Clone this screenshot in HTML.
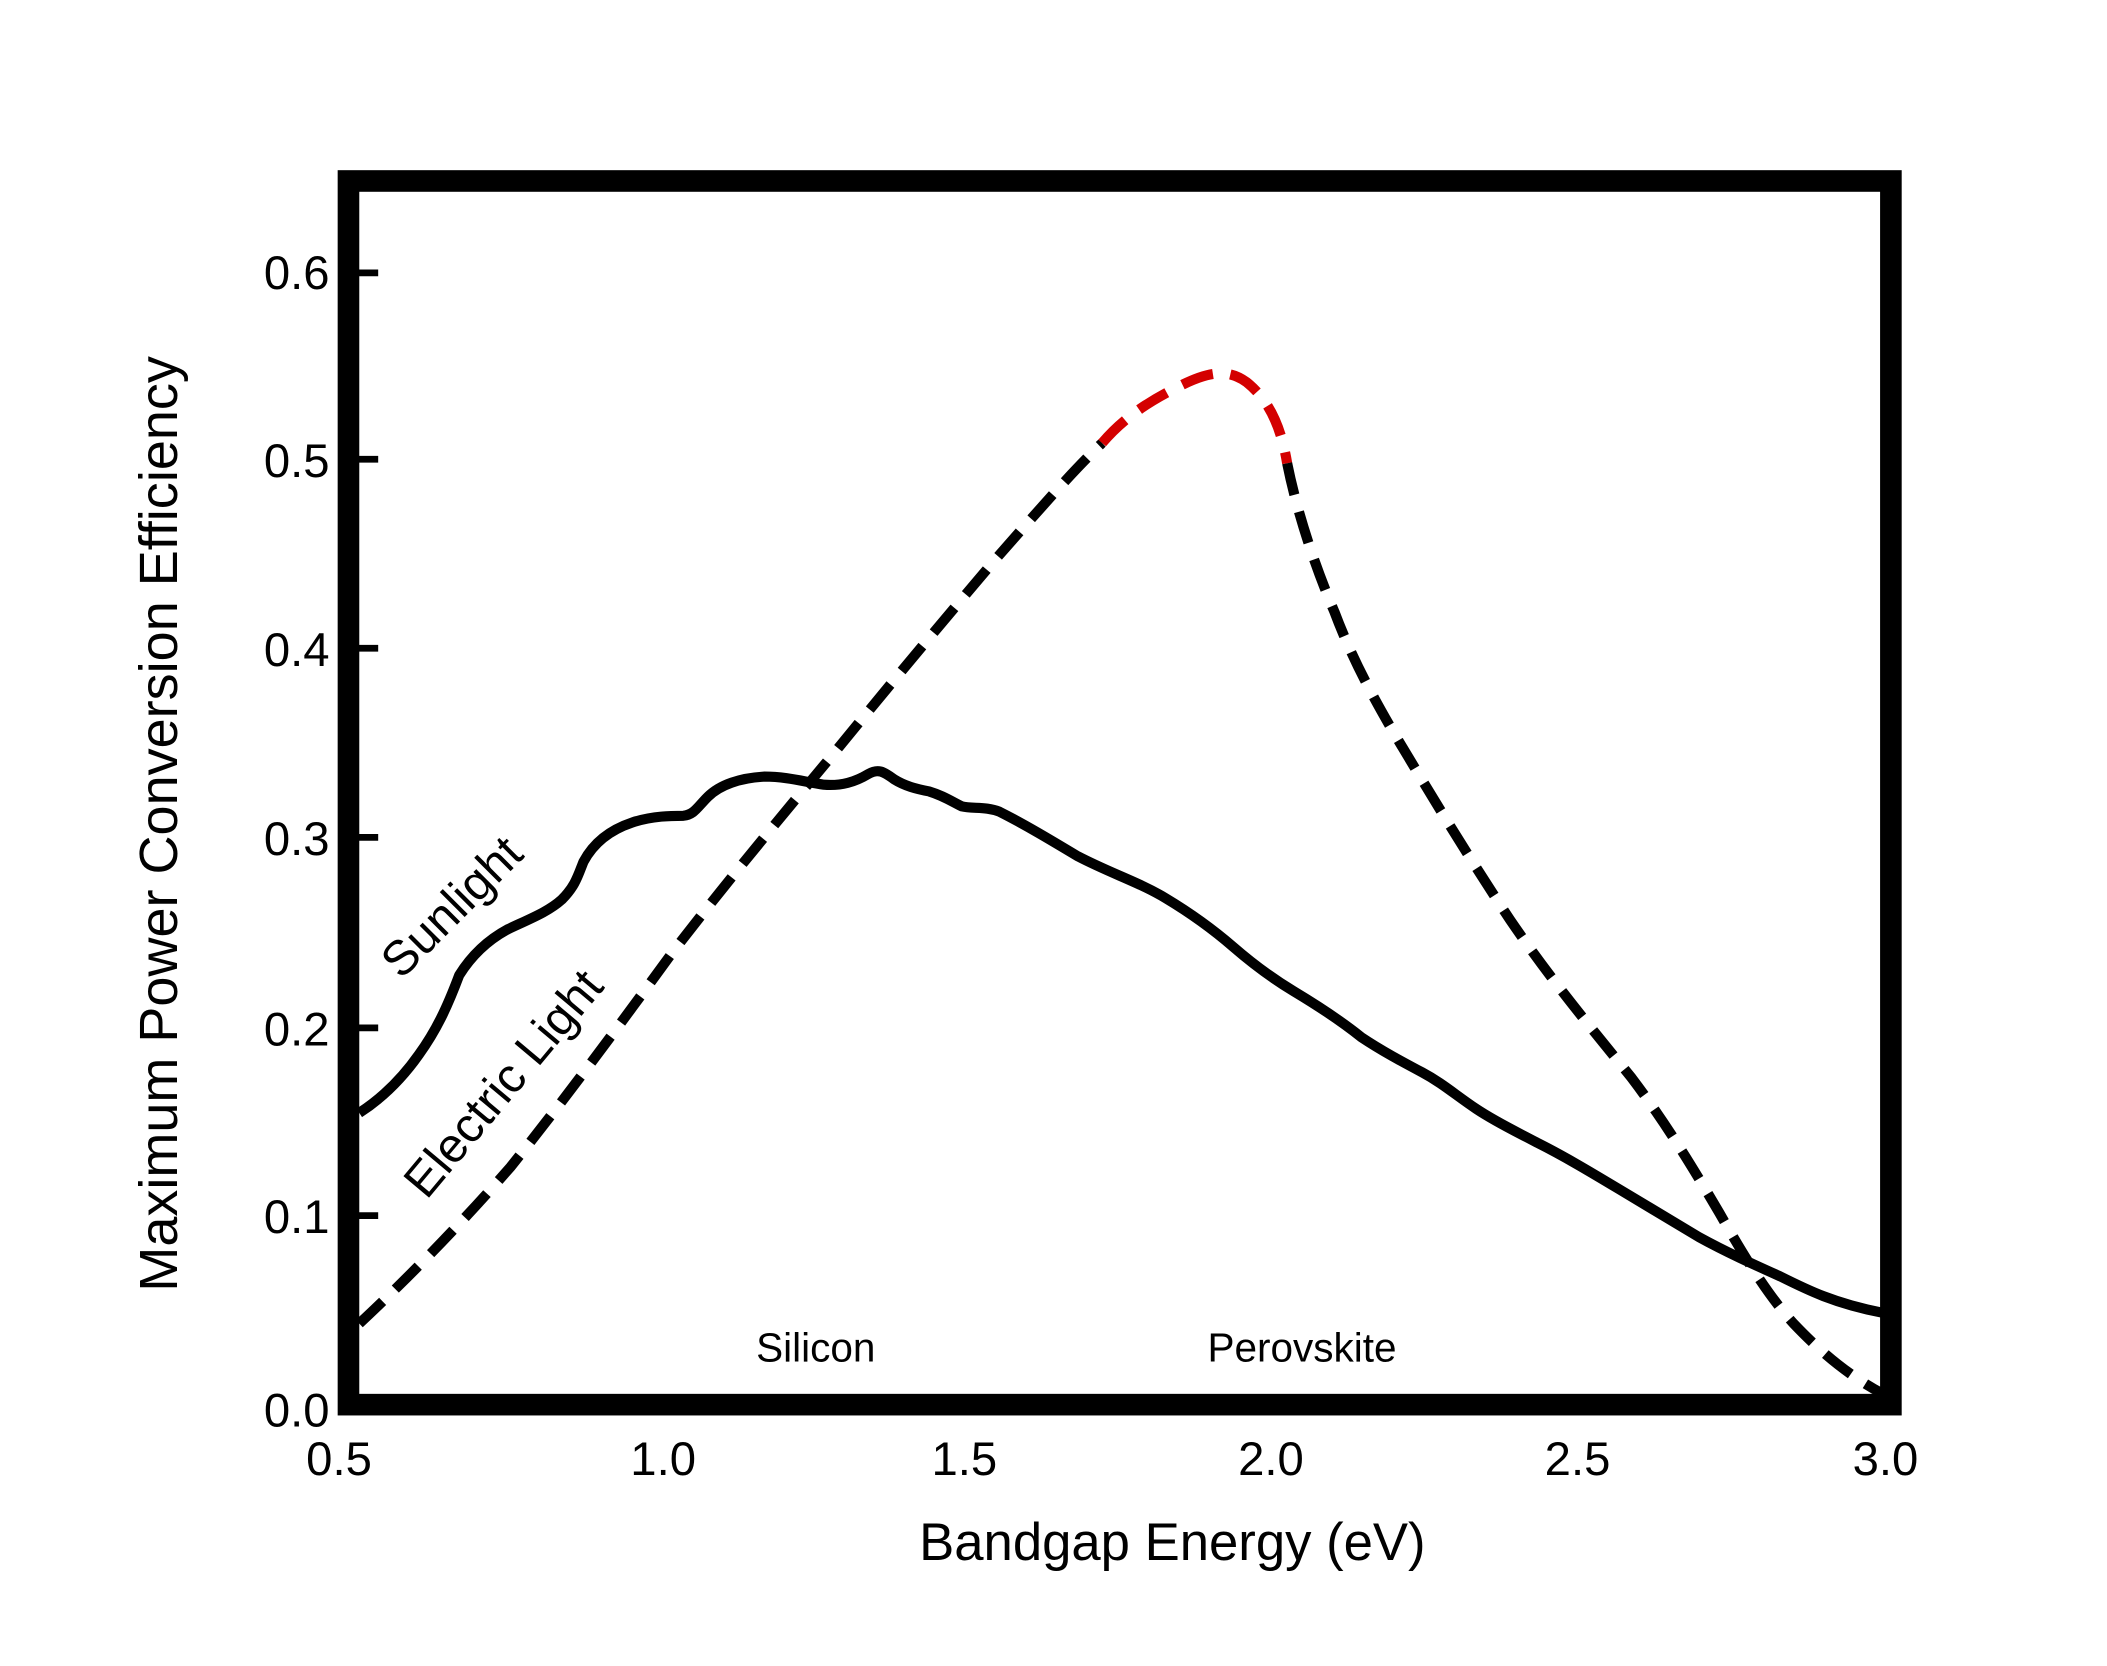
<!DOCTYPE html>
<html><head><meta charset="utf-8"><style>
html,body{margin:0;padding:0;background:#fff;}
svg{display:block;}
text{font-family:"Liberation Sans","DejaVu Sans",sans-serif;fill:#000;}
</style></head><body>
<svg width="2107" height="1666" viewBox="0 0 1560 1233.5" xmlns="http://www.w3.org/2000/svg">
<rect x="0" y="0" width="1560" height="1233.5" fill="#fff"/>
<g transform="translate(-2,-2)">
<g stroke="#000" stroke-width="5">
<line x1="266" y1="204" x2="282" y2="204"/>
<line x1="266" y1="342" x2="282" y2="342"/>
<line x1="266" y1="482" x2="282" y2="482"/>
<line x1="266" y1="622" x2="282" y2="622"/>
<line x1="266" y1="763" x2="282" y2="763"/>
<line x1="266" y1="902" x2="282" y2="902"/>
</g>
<path fill="none" stroke="#000" stroke-width="7.5" stroke-linejoin="round" d="M268,826 C285,815 300,800 312,783 C325,765 333,748 342,724 C352,708 365,697 378,690 C395,682 408,677 418,668 C428,658 430,650 434,640 C442,625 455,616 470,611 C485,606 500,606 508,606 C516,605 518,600 526,592 C535,583 550,578 568,577 C585,577 598,581 612,583 C625,584 635,581 645,575 C652,571 656,573 664,579 C672,584 680,586 690,588 C700,591 706,595 714,599 C722,601 732,599 742,603 C760,612 780,624 800,636 C825,649 845,655 865,667 C885,679 900,690 915,703 C930,716 945,727 960,736 C980,748 995,758 1010,770 C1025,780 1040,788 1055,796 C1070,804 1080,813 1095,823 C1110,833 1125,840 1140,848 C1160,858 1180,870 1200,882 C1220,894 1240,906 1260,918 C1280,929 1300,938 1320,947 C1340,957 1360,967 1396,974"/>
<path fill="none" stroke="#000" stroke-width="7.5" stroke-dasharray="24,13" d="M268,982 C300,952 340,912 380,866 C420,816 460,762 500,707 C540,655 580,607 620,559 C660,510 700,462 740,415 C770,381 795,352 818,330"/>
<path fill="none" stroke="#d40000" stroke-width="7.5" stroke-dasharray="24,13" d="M818,330 C835,310 855,298 875,288 C895,278 910,274 925,285 C940,297 950,315 955,345"/>
<path fill="none" stroke="#000" stroke-width="7.5" stroke-dasharray="24,13" d="M955,345 C962,380 975,420 990,455 C1005,495 1025,530 1045,563 C1070,605 1095,645 1120,683 C1150,727 1180,763 1210,800 C1235,833 1255,866 1275,900 C1292,930 1310,960 1330,982 C1350,1003 1370,1020 1396,1034"/>
<rect x="260" y="136" width="1142" height="906" fill="none" stroke="#000" stroke-width="16"/>
<g font-size="35" text-anchor="end">
<text x="246" y="216">0.6</text>
<text x="246" y="355">0.5</text>
<text x="246" y="495">0.4</text>
<text x="246" y="635">0.3</text>
<text x="246" y="776">0.2</text>
<text x="246" y="915">0.1</text>
<text x="246" y="1058">0.0</text>
</g>
<g font-size="35" text-anchor="middle">
<text x="253" y="1094">0.5</text>
<text x="493" y="1094">1.0</text>
<text x="716" y="1094">1.5</text>
<text x="943" y="1094">2.0</text>
<text x="1170" y="1094">2.5</text>
<text x="1398" y="1094">3.0</text>
</g>
<text x="870" y="1157" font-size="39" text-anchor="middle">Bandgap Energy (eV)</text>
<text transform="translate(133,612) rotate(-90)" font-size="40" text-anchor="middle">Maximum Power Conversion Efficiency</text>
<text x="606" y="1010" font-size="30" text-anchor="middle">Silicon</text>
<text x="966" y="1010" font-size="30" text-anchor="middle">Perovskite</text>
<text transform="translate(345,682) rotate(-45)" font-size="36" text-anchor="middle">Sunlight</text>
<text transform="translate(384,812) rotate(-50)" font-size="36" text-anchor="middle">Electric Light</text>
</g>
</svg>
</body></html>
